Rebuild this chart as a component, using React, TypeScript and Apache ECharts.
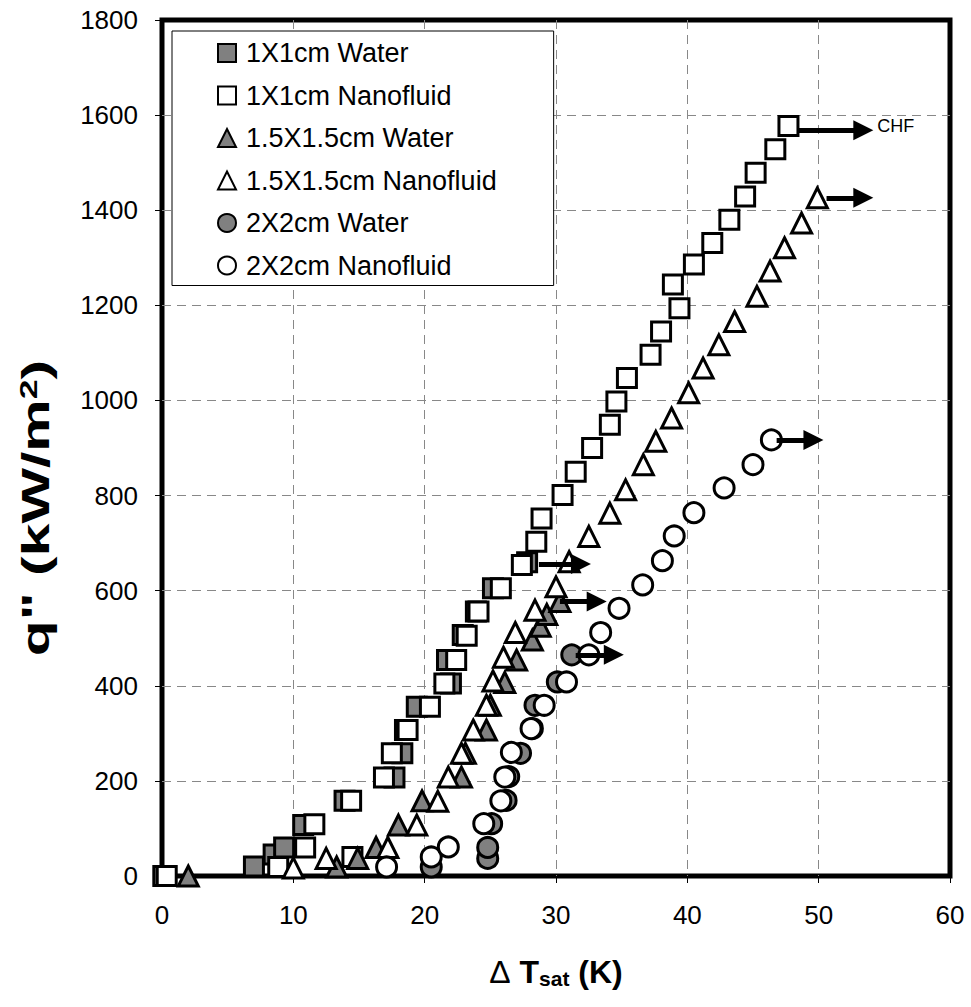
import React, { useEffect, useRef } from "react";
import * as echarts from "echarts";

const FONT = 'Arial, "Liberation Sans", Helvetica, sans-serif';

// series names
const seriesNames = [
  "1X1cm Water",
  "1X1cm Nanofluid",
  "1.5X1.5cm Water",
  "1.5X1.5cm Nanofluid",
  "2X2cm Water",
  "2X2cm Nanofluid",
];

// [ΔTsat (K), q'' (kW/m2)]
const water1x1: number[][] = [
  [0.1, 0], [7.0, 20], [8.5, 45], [9.3, 60], [10.75, 107], [13.9, 158],
  [17.7, 207], [18.3, 258], [18.5, 307], [19.4, 356], [22.0, 405], [21.7, 454],
  [22.9, 507], [23.9, 556], [25.2, 605], [27.8, 660],
];
const nano1x1: number[][] = [
  [0.36, 0], [8.85, 19], [10.9, 60], [11.6, 109], [14.5, 40], [14.4, 158],
  [16.9, 207], [17.5, 258], [18.7, 307], [20.4, 356], [21.5, 405], [22.4, 454],
  [23.2, 505], [24.1, 556], [25.8, 605], [27.4, 654], [28.5, 703], [28.9, 752],
  [30.5, 801], [31.5, 850], [32.75, 900], [34.1, 949], [34.6, 998], [35.4, 1047],
  [37.2, 1096], [38.0, 1145], [39.4, 1194], [38.9, 1244], [40.5, 1286],
  [41.9, 1331], [43.2, 1380], [44.4, 1429], [45.2, 1479], [46.7, 1528], [47.7, 1577],
];
const water15: number[][] = [
  [2.0, 0], [13.3, 19], [14.9, 37], [16.3, 60], [18.0, 107], [19.8, 158],
  [22.8, 208], [23.1, 258], [24.7, 307], [25.0, 359], [26.1, 407], [27.0, 454],
  [28.2, 496], [28.8, 525], [29.3, 550], [30.3, 577],
];
const nano15: number[][] = [
  [10.0, 17], [12.5, 37], [17.2, 60], [19.4, 107], [21.0, 157], [21.8, 208],
  [22.8, 258], [23.7, 307], [24.7, 359], [25.2, 410], [26.0, 460], [26.9, 512],
  [28.4, 559], [30.0, 608], [31.0, 661], [32.5, 714], [34.1, 763], [35.3, 812],
  [36.65, 865], [37.6, 914], [38.8, 963], [40.1, 1016], [41.2, 1068], [42.4, 1117],
  [43.6, 1166], [45.3, 1219], [46.3, 1272], [47.4, 1321], [48.7, 1373], [49.9, 1426],
];
const water22: number[][] = [
  [20.5, 19], [24.8, 37], [24.8, 60], [25.1, 110], [26.2, 159], [26.4, 209],
  [27.3, 258], [28.2, 310], [28.4, 359], [30.1, 408], [31.2, 465],
];
const nano22: number[][] = [
  [17.1, 19], [20.5, 40], [21.8, 61], [24.5, 110], [25.8, 158], [26.1, 208],
  [26.6, 260], [28.1, 310], [29.1, 359], [30.8, 408], [32.5, 465], [33.4, 512],
  [34.8, 563], [36.6, 612], [38.1, 663], [39.0, 715], [40.5, 764], [42.8, 816],
  [45.0, 865], [46.4, 917],
];

// CHF arrows: [x start, x end, q'']
const arrowWater1x1 = [28.7, 31.9, 656];
const arrowNano1x1 = [48.4, 53.4, 1568];
const arrowWater15 = [30.3, 33.1, 577];
const arrowNano15 = [50.6, 53.4, 1426];
const arrowWater22 = [31.5, 34.4, 465];
const arrowNano22 = [46.8, 49.6, 917];
const chfLabel = "CHF";

const xMin = 0, xMax = 60, xStep = 10;
const yMin = 0, yMax = 1800, yStep = 200;

function makeSeries(
  name: string,
  data: number[][],
  symbol: string,
  size: number,
  filled: boolean,
  arrow: number[],
  label?: string
) {
  return {
    name,
    type: "scatter",
    data,
    symbol,
    symbolSize: size,
    itemStyle: {
      color: filled ? "#808080" : "#ffffff",
      borderColor: "#000000",
      borderWidth: 3,
      opacity: 1,
    },
    emphasis: { disabled: true },
    markLine: {
      silent: true,
      animation: false,
      symbol: ["none", "triangle"],
      symbolSize: 20,
      lineStyle: { color: "#000", width: 5, type: "solid" },
      itemStyle: { color: "#000" },
      label: label
        ? {
            show: true,
            position: "end",
            formatter: label,
            color: "#000",
            fontSize: 18,
            fontFamily: FONT,
            distance: 14,
            offset: [0, -4],
          }
        : { show: false },
      emphasis: { disabled: true },
      data: [
        [
          { coord: [arrow[0], arrow[2]] },
          { coord: [arrow[1], arrow[2]] },
        ],
      ],
    },
  };
}

export default function App() {
  const ref = useRef<HTMLDivElement>(null);
  useEffect(() => {
    document.body.style.margin = "0";
    if (!ref.current) return;
    const chart = echarts.init(ref.current, undefined, { renderer: "svg" });
    const axisLabel = {
      color: "#000",
      fontSize: 26,
      fontFamily: FONT,
      formatter: (v: number) => String(v),
    };
    const splitLine = {
      show: true,
      showMinLine: false,
      showMaxLine: false,
      lineStyle: { color: "#888", width: 1, type: [9, 6] },
    };
    chart.setOption({
      animation: false,
      backgroundColor: "#fff",
      grid: {
        left: 162,
        right: 21,
        top: 20,
        bottom: 131,
        show: true,
        borderColor: "#000",
        borderWidth: 5,
        backgroundColor: "transparent",
      },
      legend: {
        data: seriesNames,
        orient: "vertical",
        left: 172,
        top: 31,
        padding: [8, 57, 6, 45],
        itemGap: 14.5,
        itemWidth: 18,
        itemHeight: 18,
        backgroundColor: "#fff",
        borderColor: "#000",
        borderWidth: 1,
        borderRadius: 0,
        selectedMode: false,
        itemStyle: { borderWidth: 2 },
        textStyle: {
          color: "#000",
          fontSize: 27,
          fontFamily: FONT,
          lineHeight: 28,
          padding: [0, 0, 0, 5],
        },
      },
      graphic: [
        {
          type: "text",
          x: 36,
          y: 508,
          rotation: Math.PI / 2,
          scaleX: 1.55,
          style: {
            text: 'q" (kW/m{sup|2})',
            fill: "#000",
            fontSize: 38,
            fontWeight: "bold",
            fontFamily: FONT,
            align: "center",
            verticalAlign: "middle",
            rich: {
              sup: {
                fontSize: 23,
                fontWeight: "bold",
                fontFamily: FONT,
                fill: "#000",
                verticalAlign: "top",
                padding: [0, 0, 14, 0],
              },
            },
          },
        },
      ],
      xAxis: {
        type: "value",
        min: xMin,
        max: xMax,
        interval: xStep,
        axisLine: { show: false },
        axisTick: { show: true, length: 7, lineStyle: { color: "#000", width: 1 } },
        axisLabel: { ...axisLabel, margin: 26 },
        splitLine,
        name: "{d|Δ} T{sub|sat} (K)",
        nameLocation: "middle",
        nameGap: 78,
        nameTextStyle: {
          color: "#000",
          fontSize: 32,
          fontWeight: "bold",
          fontFamily: FONT,
          rich: {
            d: { fontSize: 32, fontWeight: "normal", fontFamily: FONT, color: "#000" },
            sub: {
              fontSize: 21,
              fontWeight: "bold",
              fontFamily: FONT,
              color: "#000",
              verticalAlign: "bottom",
              padding: [14, 0, 0, 0],
            },
          },
        },
      },
      yAxis: {
        type: "value",
        min: yMin,
        max: yMax,
        interval: yStep,
        axisLine: { show: false },
        axisTick: { show: true, length: 7, lineStyle: { color: "#000", width: 1 } },
        axisLabel: { ...axisLabel, margin: 24 },
        splitLine,
      },
      series: [
        makeSeries(seriesNames[0], water1x1, "rect", 19, true, arrowWater1x1),
        makeSeries(seriesNames[1], nano1x1, "rect", 19, false, arrowNano1x1, chfLabel),
        makeSeries(seriesNames[2], water15, "triangle", 20, true, arrowWater15),
        makeSeries(seriesNames[3], nano15, "triangle", 20, false, arrowNano15),
        makeSeries(seriesNames[4], water22, "circle", 20, true, arrowWater22),
        makeSeries(seriesNames[5], nano22, "circle", 20, false, arrowNano22),
      ],
    });
    return () => chart.dispose();
  }, []);
  return <div ref={ref} style={{ width: 971, height: 1007 }} />;
}
